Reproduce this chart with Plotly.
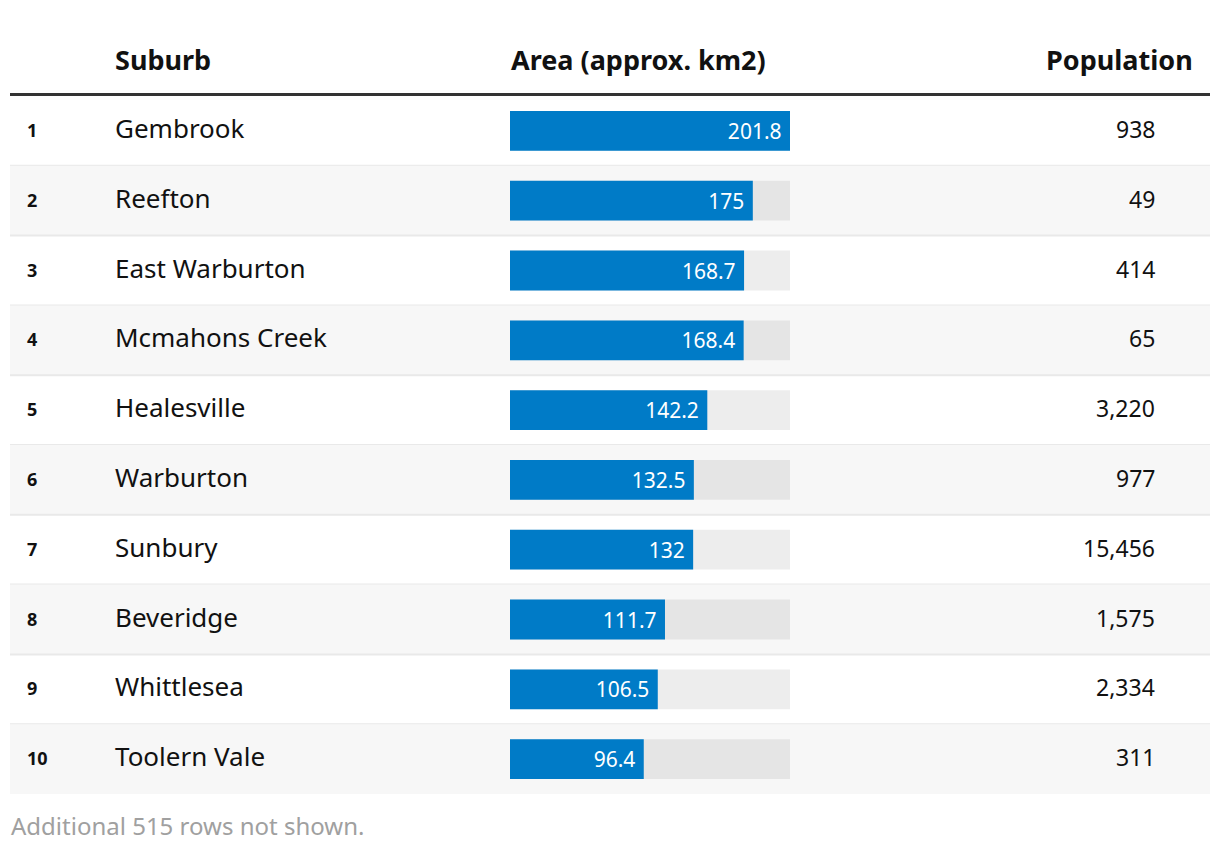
import plotly.graph_objects as go

# Table data
ranks = [1, 2, 3, 4, 5, 6, 7, 8, 9, 10]
suburbs = ["Gembrook", "Reefton", "East Warburton", "Mcmahons Creek", "Healesville",
           "Warburton", "Sunbury", "Beveridge", "Whittlesea", "Toolern Vale"]
areas = [201.8, 175, 168.7, 168.4, 142.2, 132.5, 132, 111.7, 106.5, 96.4]
population = [938, 49, 414, 65, 3220, 977, 15456, 1575, 2334, 311]
headers = ["Suburb", "Area (approx. km2)", "Population"]
footer = "Additional 515 rows not shown."

# the page body adds an 8px margin, so the figure is drawn 8px smaller
# and all layout pixel positions are offset by that margin
OFF = 8
W, H = 1220 - OFF, 850 - OFF
FONT = "Noto Sans"
BLUE = "#007bc7"


def px(x):
    return (x - OFF) / W


def py(y):
    return (H - (y - OFF)) / H


area_max = max(areas)

fig = go.Figure()

# grey track behind each bar
fig.add_trace(go.Bar(
    x=[area_max] * len(ranks),
    y=ranks,
    orientation="h",
    width=0.57,
    marker=dict(color="rgba(0,0,0,0.07)", line_width=0),
    hoverinfo="skip",
    showlegend=False,
))
fig.add_trace(go.Bar(
    x=areas,
    y=ranks,
    orientation="h",
    width=0.57,
    marker=dict(color=BLUE, line_width=0),
    texttemplate="%{x}\u00a0",
    textposition="inside",
    insidetextanchor="end",
    textfont=dict(family=FONT, size=21, color="white"),
    showlegend=False,
))

shapes = []
# striped row backgrounds and separators
for r in ranks:
    if r % 2 == 0:
        shapes.append(dict(type="rect", xref="paper", yref="y",
                           x0=px(10), x1=px(1210), y0=r - 0.5, y1=r + 0.5,
                           fillcolor="#f7f7f7", line_width=0, layer="below"))
    if r < len(ranks):
        shapes.append(dict(type="line", xref="paper", yref="y",
                           x0=px(10), x1=px(1210), y0=r + 0.5, y1=r + 0.5,
                           line=dict(color="#e9e9e9", width=2), layer="below"))
# header rule
shapes.append(dict(type="line", xref="paper", yref="paper",
                   x0=px(10), x1=px(1210), y0=py(94.5), y1=py(94.5),
                   line=dict(color="#333333", width=3)))

annotations = []
hdr_font = dict(family=FONT, size=27, color="#111111")
annotations.append(dict(text="<b>%s</b>" % headers[0], xref="paper", yref="paper",
                        x=px(113), y=py(60), xanchor="left", yanchor="middle",
                        showarrow=False, font=hdr_font))
annotations.append(dict(text="<b>%s</b>" % headers[1], xref="paper", yref="paper",
                        x=px(509), y=py(60), xanchor="left", yanchor="middle",
                        showarrow=False, font=hdr_font))
annotations.append(dict(text="<b>%s</b>" % headers[2], xref="paper", yref="paper",
                        x=px(1195), y=py(60), xanchor="right", yanchor="middle",
                        showarrow=False, font=hdr_font))

for r, s, p in zip(ranks, suburbs, population):
    annotations.append(dict(text="<b>%d</b>" % r, xref="paper", yref="y",
                            x=px(25), y=r, xanchor="left", yanchor="middle",
                            showarrow=False, yshift=1,
                            font=dict(family=FONT, size=18, color="#111111")))
    annotations.append(dict(text=s, xref="paper", yref="y",
                            x=px(113), y=r, xanchor="left", yanchor="middle",
                            showarrow=False, yshift=3,
                            font=dict(family=FONT, size=26, color="#111111")))
    annotations.append(dict(text=f"{p:,}", xref="paper", yref="y",
                            x=px(1157), y=r, xanchor="right", yanchor="middle",
                            showarrow=False, yshift=2,
                            font=dict(family=FONT, size=23, color="#111111")))

annotations.append(dict(text=footer, xref="paper", yref="paper",
                        x=px(9), y=py(825), xanchor="left", yanchor="middle",
                        showarrow=False,
                        font=dict(family=FONT, size=24, color="#a0a0a0")))

fig.update_layout(
    width=W, height=H,
    margin=dict(l=0, r=0, t=0, b=0),
    paper_bgcolor="white",
    plot_bgcolor="rgba(0,0,0,0)",
    barmode="overlay",
    xaxis=dict(domain=[px(510), px(790)], range=[0, area_max],
               visible=False, fixedrange=True),
    yaxis=dict(domain=[py(794), py(96)], range=[10.5, 0.5],
               visible=False, fixedrange=True),
    shapes=shapes,
    annotations=annotations,
    uniformtext=dict(minsize=10, mode="show"),
)

fig.write_html("out.html")
